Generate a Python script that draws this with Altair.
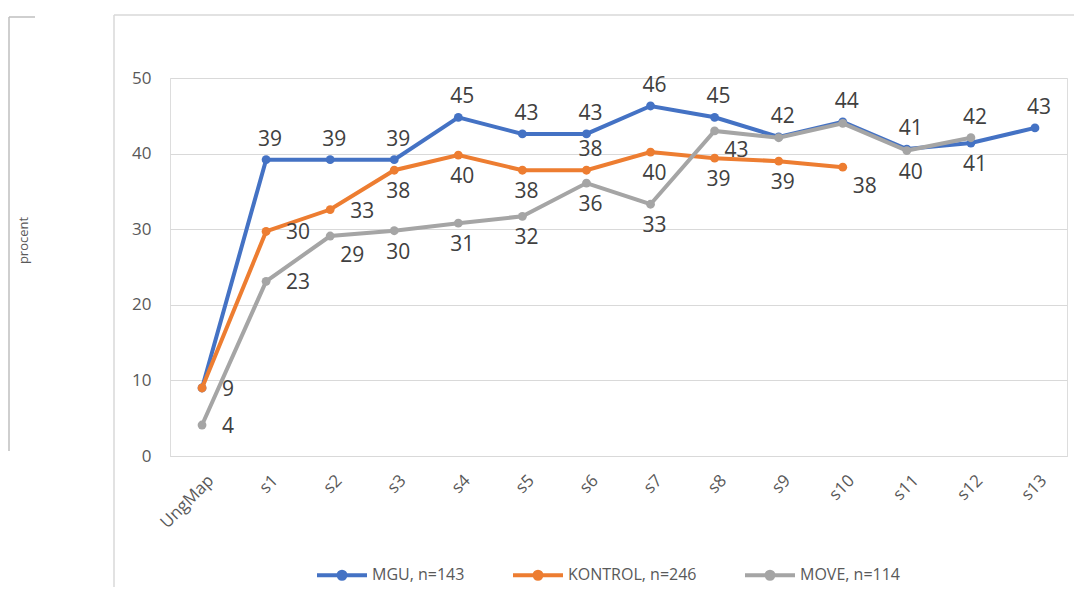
import altair as alt
import pandas as pd

# ---- data ----
categories = ["UngMap", "s1", "s2", "s3", "s4", "s5", "s6", "s7", "s8", "s9", "s10", "s11", "s12", "s13"]
series_names = ["MGU, n=143", "KONTROL, n=246", "MOVE, n=114"]
colors = ["#4472C4", "#ED7D31", "#A5A5A5"]

mgu = [9.0, 39.2, 39.2, 39.2, 44.8, 42.6, 42.6, 46.3, 44.8, 42.2, 44.2, 40.6, 41.4, 43.4]
kontrol = [9.0, 29.7, 32.6, 37.8, 39.8, 37.8, 37.8, 40.2, 39.4, 39.0, 38.2]
move = [4.1, 23.1, 29.1, 29.8, 30.8, 31.7, 36.1, 33.3, 43.0, 42.1, 44.0, 40.4, 42.1]

# label placement (category of placement only)
mgu_lbl = ["none", "above", "above", "above", "above", "above", "above", "above", "above",
           "above", "above", "above", "below", "above"]
kontrol_lbl = ["right", "right", "right", "below", "below", "below", "above", "below",
               "below", "below", "belowright"]
move_lbl = ["right", "right", "belowright", "below", "below", "below", "below", "below",
            "belowright", "none", "none", "below", "above"]

rows = []
for name, vals, lbls in zip(series_names, [mgu, kontrol, move], [mgu_lbl, kontrol_lbl, move_lbl]):
    for c, v, p in zip(categories, vals, lbls):
        rows.append({"cat": c, "series": name, "value": v, "pos": p})
df = pd.DataFrame(rows)

FONT = "Open Sans"

x_enc = alt.X("cat:N", sort=categories,
              scale=alt.Scale(type="point", padding=0.5),
              axis=alt.Axis(title=None, labelAngle=-45, ticks=False, grid=False,
                            domainColor="#d9d9d9", domainWidth=1,
                            labelFontSize=17, labelColor="#595959", labelPadding=16,
                            labelOffset=3, labelFont=FONT))
y_enc = alt.Y("value:Q", scale=alt.Scale(domain=[0, 50]),
              axis=alt.Axis(values=[0, 10, 20, 30, 40, 50], domain=False, ticks=False,
                            gridColor="#d9d9d9", labelPadding=19, labelFontSize=17,
                            labelColor="#595959", labelFont=FONT,
                            title="procent", titleFontSize=13, titleFontWeight="normal",
                            titleColor="#595959", titleFont=FONT,
                            titleX=-140, titleY=162))

legend_path = ("M-1,0L1,0"
               "M-0.06,0A0.06,0.06,0,1,0,0.06,0A0.06,0.06,0,1,0,-0.06,0"
               "M-0.14,0A0.14,0.14,0,1,0,0.14,0A0.14,0.14,0,1,0,-0.14,0")

color_enc = alt.Color("series:N",
                      scale=alt.Scale(domain=series_names, range=colors),
                      legend=alt.Legend(title=None, orient="none", direction="horizontal",
                                        legendX=145, legendY=470,
                                        symbolType=legend_path, symbolSize=2500,
                                        symbolStrokeWidth=4,
                                        labelFont=FONT, labelFontSize=16,
                                        labelColor="#595959", labelOffset=3,
                                        columnPadding=40))

base = alt.Chart(df)
layers = []
for name in series_names:
    s = base.transform_filter(alt.datum.series == name)
    layers.append(s.mark_line(strokeWidth=4).encode(x=x_enc, y=y_enc, color=color_enc))
    layers.append(s.mark_circle(size=78, opacity=1).encode(x=x_enc, y=y_enc, color=color_enc))

offsets = {
    "above": dict(dx=4, dy=-20, align="center"),
    "below": dict(dx=4, dy=22, align="center"),
    "right": dict(dx=20, dy=2, align="left"),
    "belowright": dict(dx=10, dy=20, align="left"),
}
for pos, o in offsets.items():
    layers.append(
        base.transform_filter(alt.datum.pos == pos)
        .mark_text(baseline="middle", fontSize=21, color="#404040", font=FONT, **o)
        .encode(x=x_enc, y=y_enc, text=alt.Text("value:Q", format=".0f"))
    )

deco = alt.Chart(pd.DataFrame({"k": [0]}))
layers.append(deco.mark_rule(color="#d9d9d9", strokeWidth=1.5).encode(
    x=alt.value(-56), y=alt.value(-63), y2=alt.value(520)))
layers.append(deco.mark_rule(color="#d9d9d9", strokeWidth=1.5).encode(
    y=alt.value(-63), x=alt.value(-56), x2=alt.value(920)))
layers.append(deco.mark_rule(color="#bfbfbf", strokeWidth=1.5).encode(
    x=alt.value(-161), y=alt.value(-61), y2=alt.value(373)))
layers.append(deco.mark_rule(color="#bfbfbf", strokeWidth=1.5).encode(
    y=alt.value(-61), x=alt.value(-161), x2=alt.value(-135)))

chart = alt.layer(*layers).properties(
    width=897, height=378,
    autosize="none",
    padding={"left": 162, "top": 70, "right": 7, "bottom": 131},
).configure_view(stroke=None).configure(font=FONT)

chart.save("out.html", embed_options={"renderer": "svg", "actions": False})
